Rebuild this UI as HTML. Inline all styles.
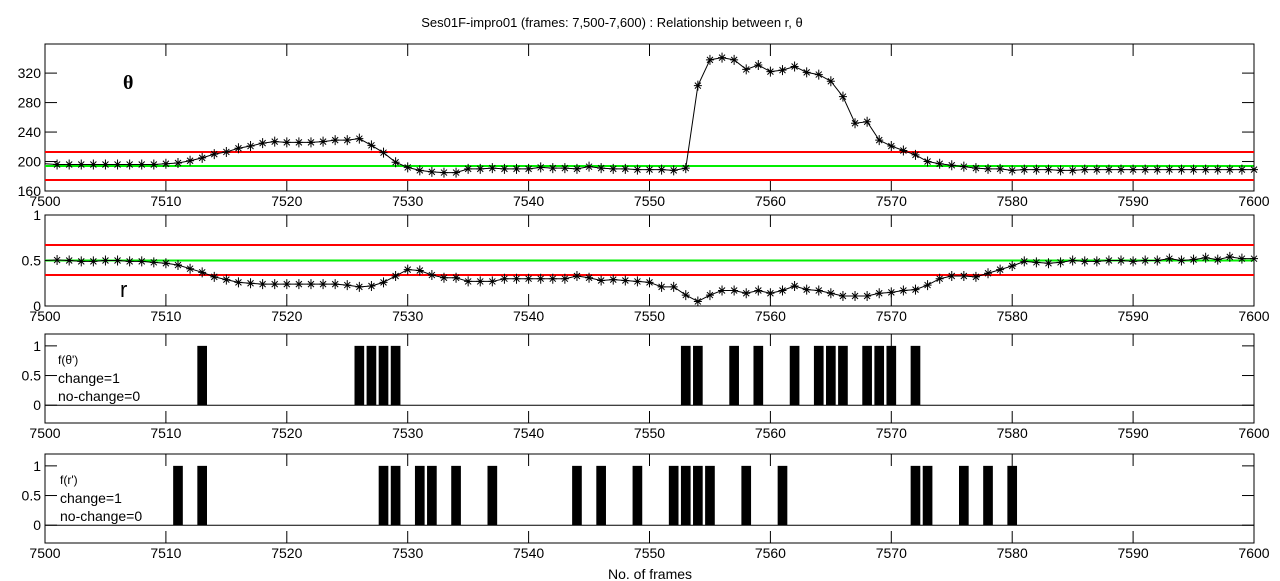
<!DOCTYPE html>
<html><head><meta charset="utf-8"><style>
body{margin:0;background:#fff;}
svg{display:block;font-family:"Liberation Sans",Arial,sans-serif;}
</style></head><body>
<svg id="chart" width="1280" height="581" viewBox="0 0 1280 581" xmlns="http://www.w3.org/2000/svg">
<rect width="1280" height="581" fill="#fff"/>
<text x="612" y="27" font-size="13" text-anchor="middle">Ses01F-impro01 (frames: 7,500-7,600) : Relationship between r,  θ</text>
<text x="650" y="579" font-size="14" text-anchor="middle">No. of frames</text>
</svg>
<script>
const frames = [];
for (let f = 7500; f <= 7600; f++) frames.push(f);
const thetaValues = [197,196,196,196,196,196,196,196,196,196,197,198,201,205,210,213,218,221,225,227,226,226,226,227,229,229,231,222,212,199,192,188,186,185,185,190,190,191,190,190,190,192,191,191,190,193,191,190,190,189,189,189,188,191,303,338,341,338,325,331,322,324,329,321,318,309,288,252,254,229,221,215,209,200,197,195,193,191,190,190,188,189,189,189,188,188,189,189,189,189,189,189,189,189,189,189,189,189,189,189,189];
const rValues = [0.5,0.505,0.5,0.49,0.49,0.5,0.5,0.49,0.49,0.48,0.47,0.45,0.41,0.37,0.32,0.29,0.26,0.25,0.24,0.24,0.24,0.24,0.24,0.24,0.24,0.23,0.21,0.22,0.26,0.33,0.40,0.39,0.34,0.31,0.31,0.27,0.27,0.27,0.30,0.30,0.30,0.30,0.30,0.30,0.33,0.31,0.28,0.29,0.28,0.27,0.26,0.21,0.21,0.12,0.05,0.12,0.17,0.17,0.14,0.17,0.14,0.17,0.22,0.18,0.17,0.14,0.11,0.11,0.11,0.14,0.15,0.17,0.18,0.23,0.30,0.33,0.33,0.32,0.36,0.40,0.44,0.49,0.48,0.47,0.48,0.50,0.49,0.49,0.50,0.50,0.49,0.50,0.50,0.52,0.50,0.51,0.53,0.51,0.54,0.52,0.52];
const thetaThresholds = [213, 194, 175];
const rThresholds = [0.67, 0.5, 0.34];
const thetaChangeFrames = [7513,7526,7527,7528,7529,7553,7554,7557,7559,7562,7564,7565,7566,7568,7569,7570,7572];
const rChangeFrames = [7511,7513,7528,7529,7531,7532,7534,7537,7544,7546,7549,7552,7553,7554,7555,7558,7561,7572,7573,7576,7578,7580];
const xTicks = [7500,7510,7520,7530,7540,7550,7560,7570,7580,7590,7600];
const thetaTicks = [160,200,240,280,320];
const rTicks = [0,0.5,1];
const fTicks = [0,0.5,1];

const svg = document.getElementById('chart');
const NS = 'http://www.w3.org/2000/svg';
const X0 = 45, X1 = 1254;
const xs = f => X0 + (f - 7500) / 100 * (X1 - X0);
function mk(tag, attrs, parent) {
  const e = document.createElementNS(NS, tag);
  for (const k in attrs) e.setAttribute(k, attrs[k]);
  (parent || svg).appendChild(e);
  return e;
}
function panel(name, top, bottom, ymin, ymax, yticks) {
  const g = mk('g', {});
  
  
  const ys = v => bottom - (v - ymin) / (ymax - ymin) * (bottom - top);
  const frame = mk('rect', {x: X0, y: top, width: X1 - X0, height: bottom - top, fill: 'none', stroke: '#000', 'stroke-width': 1}, g);
  
  
  xTicks.forEach(t => {
    const x = xs(t);
    mk('line', {x1: x, x2: x, y1: top, y2: top + 12, stroke: '#000'}, g);
    mk('line', {x1: x, x2: x, y1: bottom, y2: bottom - 12, stroke: '#000'}, g);
    const tx = mk('text', {x: x, y: bottom + 15, 'font-size': 14, 'text-anchor': 'middle'}, g);
    
    
    tx.textContent = t;
  });
  yticks.forEach(t => {
    const y = ys(t);
    mk('line', {x1: X0, x2: X0 + 12, y1: y, y2: y, stroke: '#000'}, g);
    mk('line', {x1: X1, x2: X1 - 12, y1: y, y2: y, stroke: '#000'}, g);
    const tx = mk('text', {x: X0 - 4, y: y + 5, 'font-size': 14, 'text-anchor': 'end'}, g);
    
    
    tx.textContent = t;
  });
  return {g, ys};
}
function thresholds(p, vals) {
  vals.forEach((v, i) => {
    const l = mk('line', {x1: X0, x2: X1, y1: p.ys(v), y2: p.ys(v), stroke: i === 1 ? '#00ee00' : '#ff0000', 'stroke-width': 2}, p.g);
    
    
  });
}
function series(p, vals, name) {
  const pts = vals.map((v, i) => xs(frames[i]) + ',' + p.ys(v)).join(' ');
  const pl = mk('polyline', {points: pts, fill: 'none', stroke: '#000', 'stroke-width': 1}, p.g);
  
  
  vals.forEach((v, i) => {
    if (i === 0) return;
    const x = xs(frames[i]), y = p.ys(v);
    const m = mk('path', {d: `M${x-4},${y}H${x+4}M${x},${y-5}V${y+5}M${x-3},${y-3}L${x+3},${y+3}M${x-3},${y+3}L${x+3},${y-3}`, stroke: '#000', 'stroke-width': 1}, p.g);
    
    
  });
}
function bars(p, fr, name) {
  fr.forEach(f => {
    const x = xs(f) - 0.4 * (X1 - X0) / 100;
    const b = mk('rect', {x: x, y: p.ys(1), width: 0.8 * (X1 - X0) / 100, height: p.ys(0) - p.ys(1), fill: '#000'}, p.g);
    
    
  });
  const zl = mk('line', {x1: X0, x2: X1, y1: p.ys(0), y2: p.ys(0), stroke: '#000'}, p.g);
  
  
}
function label(p, x, y, txt, size, name, extra) {
  const t = mk('text', Object.assign({x: x, y: y, 'font-size': size}, extra || {}), p.g);
  
  
  t.textContent = txt;
}

const p1 = panel('theta-panel', 44, 191, 160, 359.5, thetaTicks);
thresholds(p1, thetaThresholds);
series(p1, thetaValues, 'theta');
label(p1, 123, 89, 'θ', 20, 'theta-label', {'font-weight': 'bold', 'font-family': 'Liberation Serif, serif'});

const p2 = panel('r-panel', 215, 306, 0, 1, rTicks);
thresholds(p2, rThresholds);
series(p2, rValues, 'r');
label(p2, 120, 297, 'r', 22, 'r-label');

const p3 = panel('theta-change-panel', 334, 423, -0.3, 1.2, fTicks);
bars(p3, thetaChangeFrames, 'theta-change');
label(p3, 58, 364, "f(θ')", 12, 'f-theta-label');
label(p3, 58, 383, 'change=1', 14, 'change-label');
label(p3, 58, 401, 'no-change=0', 14, 'no-change-label');

const p4 = panel('r-change-panel', 454, 543, -0.3, 1.2, fTicks);
bars(p4, rChangeFrames, 'r-change');
label(p4, 60, 484, "f(r')", 12, 'f-r-label');
label(p4, 60, 503, 'change=1', 14, 'change-label');
label(p4, 60, 521, 'no-change=0', 14, 'no-change-label');
</script>
</body></html>
